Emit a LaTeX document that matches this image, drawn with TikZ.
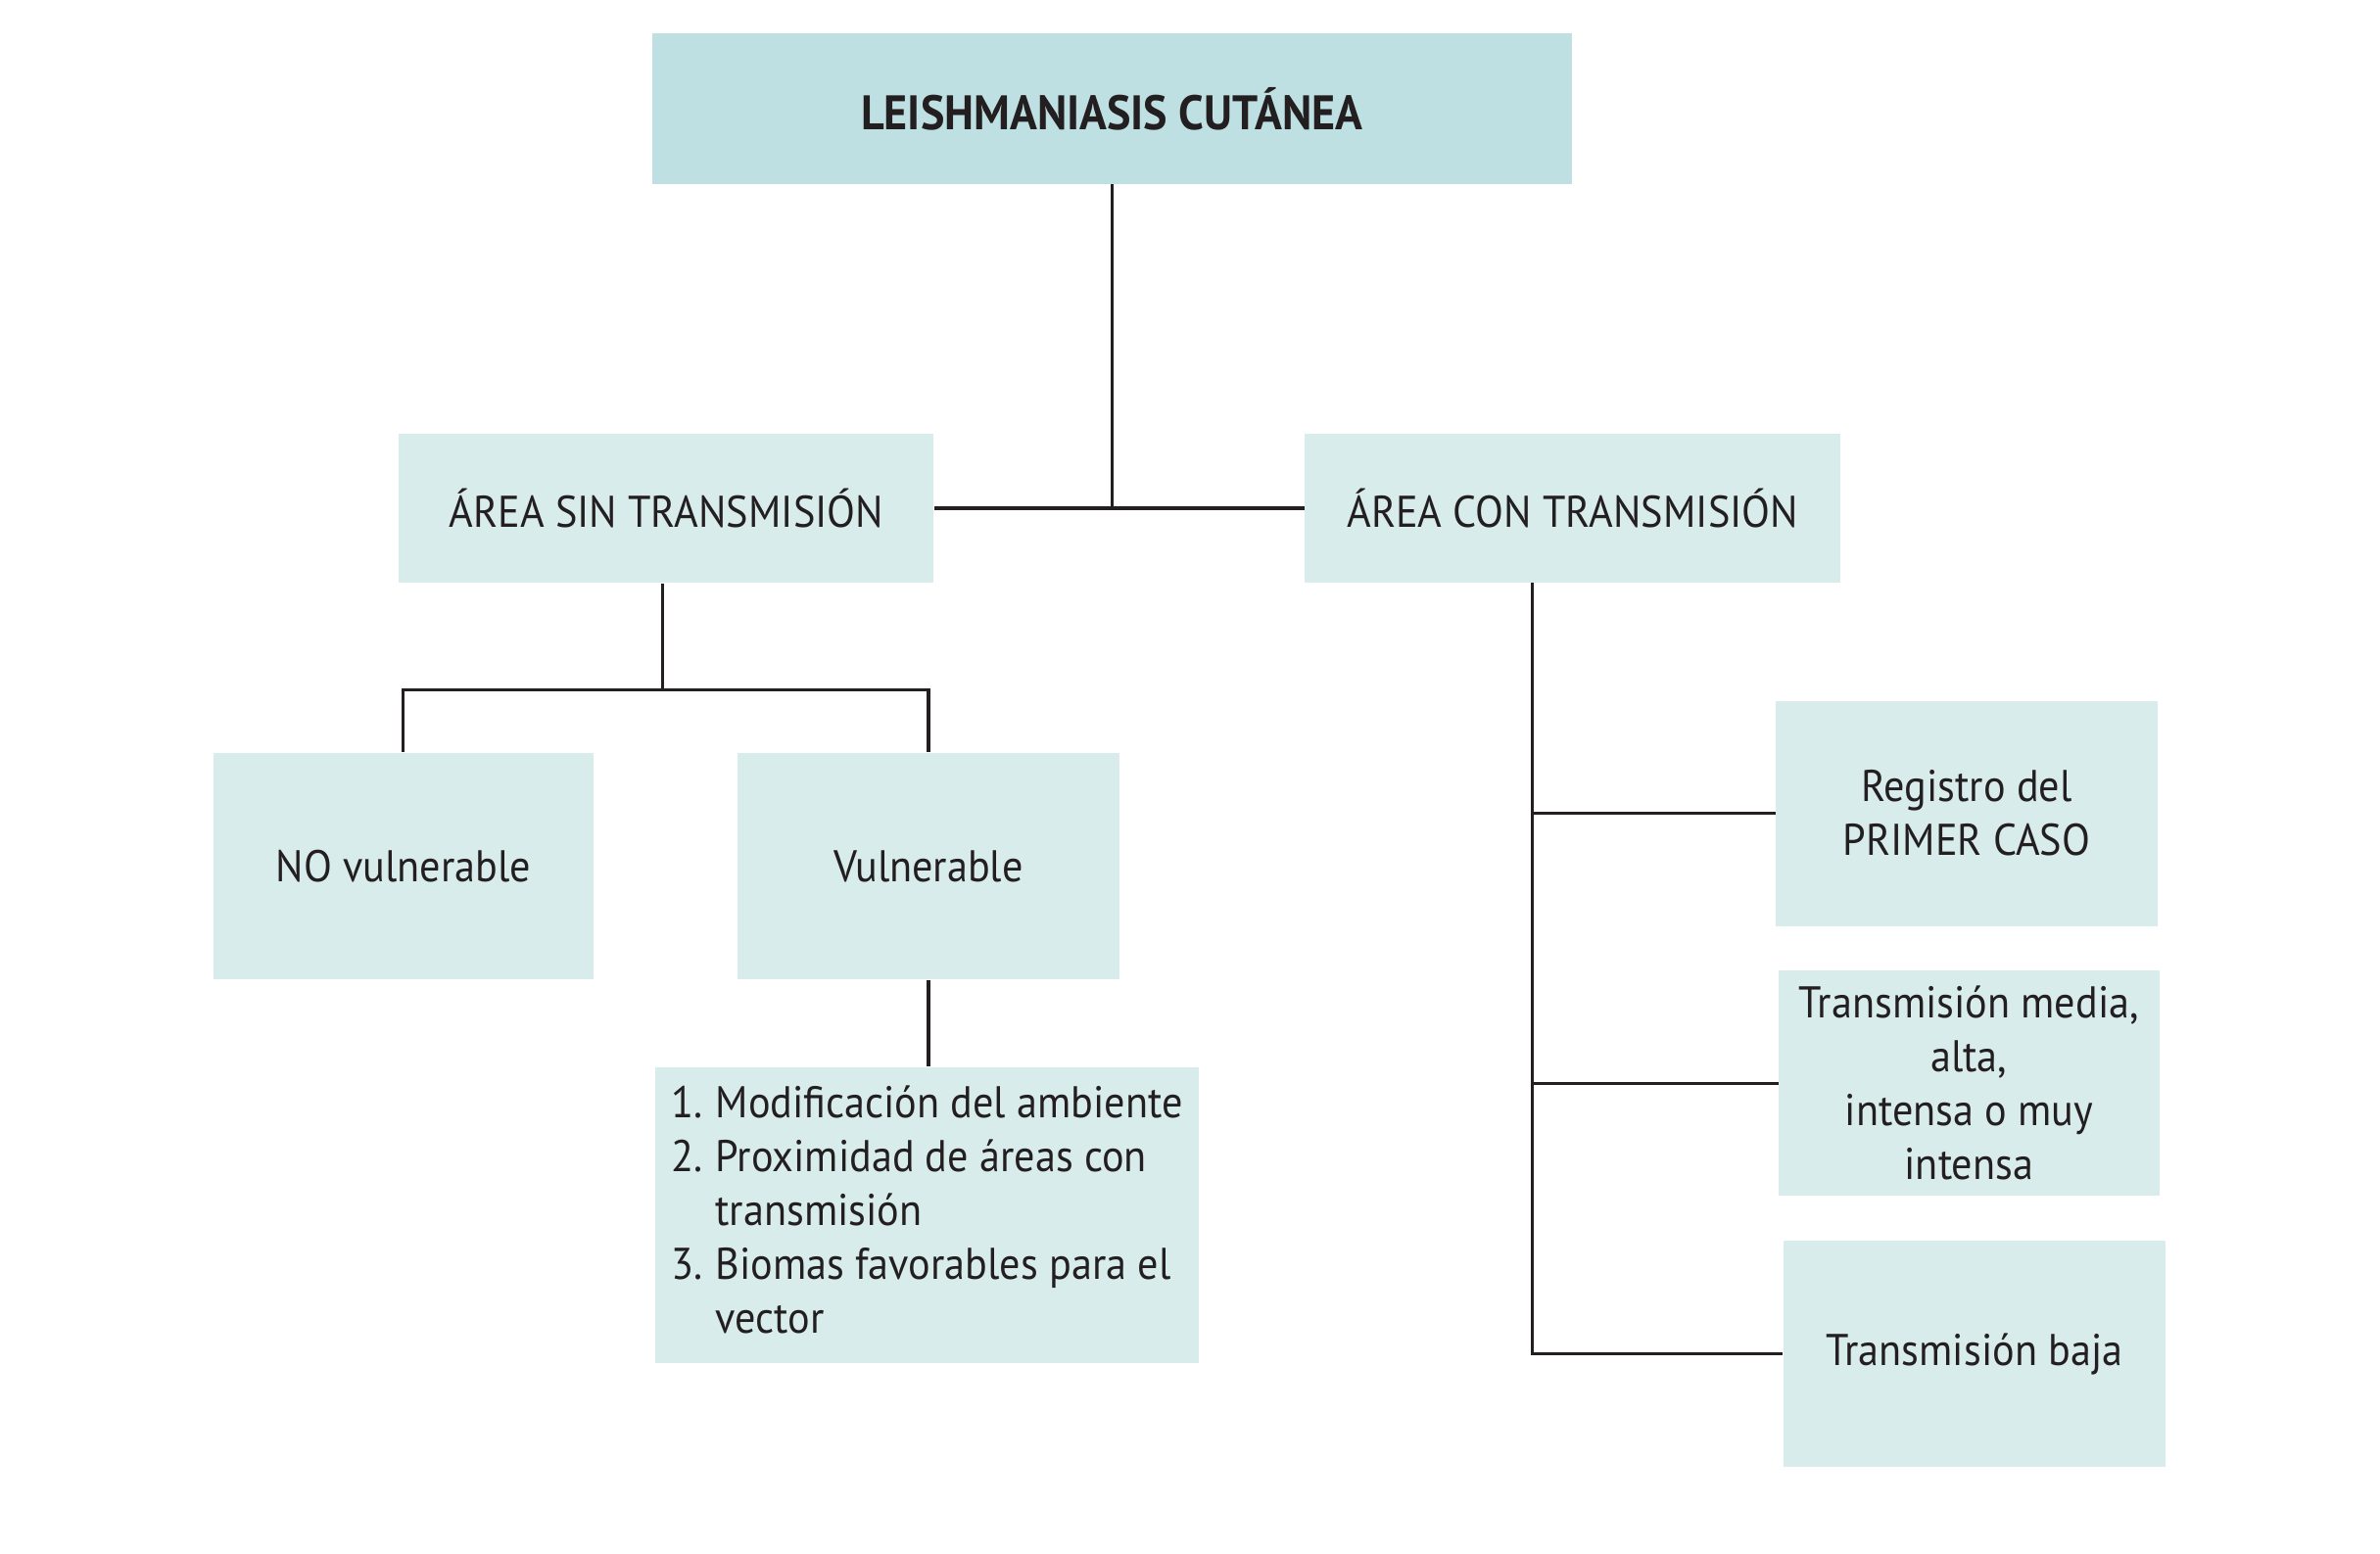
\documentclass[tikz,border=0pt]{standalone}
\usepackage{fontspec}
\setmainfont{PT Sans}[FakeStretch=0.93]
\usepackage{tikz}
\definecolor{fondoosc}{HTML}{BEE0E2}
\definecolor{fondo}{HTML}{D9ECEC}
\definecolor{linea}{HTML}{231F20}

\begin{document}
\begin{tikzpicture}[x=0.02cm,y=-0.02cm,
		caja/.style={fill=fondo, inner sep=0pt, align=center, text=linea,
			font=\fontsize{16.5}{20}\selectfont},
		titulo/.style={caja, fill=fondoosc, font=\bfseries\fontsize{18}{22}\selectfont},
		rama/.style={draw=linea, line width=1.2pt}]
	\useasboundingbox (0,0) rectangle (1552,1013);
	\node[titulo, minimum width=12cm, minimum height=1.96cm] (lc) at (725,71) {LEISHMANIASIS CUTÁNEA};
	\node[caja, minimum width=6.98cm, minimum height=1.94cm] (sin) at (434.5,331.5) {ÁREA SIN TRANSMISIÓN};
	\node[caja, minimum width=6.98cm, minimum height=1.94cm] (con) at (1025.5,331.5) {ÁREA CON TRANSMISIÓN};
	\node[caja, minimum width=4.96cm, minimum height=2.96cm] (novul) at (263,565) {NO vulnerable};
	\node[caja, minimum width=4.98cm, minimum height=2.96cm] (vul) at (605.5,565) {Vulnerable};
	\node[caja, minimum width=7.1cm, minimum height=3.86cm] (lista) at (604.5,792.5) {%
		\begin{tabular}{@{}p{0.58cm}@{}l@{}}
			1.&Modificación del ambiente\\
			2.&Proximidad de áreas con\\
			&transmisión\\
			3.&Biomas favorables para el\\
			&vector
		\end{tabular}};
	\node[caja, minimum width=4.98cm, minimum height=2.94cm] (primer) at (1282.5,530.5) {Registro del\\PRIMER CASO};
	\node[caja, minimum width=4.96cm, minimum height=2.94cm] (media) at (1284,706.5) {Transmisión media,\\alta,\\intensa o muy\\intensa};
	\node[caja, minimum width=4.98cm, minimum height=2.96cm] (baja) at (1287.5,883) {Transmisión baja};
	\coordinate (bsin) at (432,450);
	\coordinate (tronco) at (999,380);
	\draw[rama] (lc.south) -- (lc.south |- sin.east);
	\draw[rama] (sin.east) -- (con.west);
	\draw[rama] (sin.south -| bsin) -- (bsin);
	\draw[rama] (novul.north) |- (vul.north |- bsin) -- (vul.north);
	\draw[rama] (vul.south) -- (vul.south |- lista.north);
	\draw[rama] (tronco) |- (baja.west);
	\draw[rama] (primer.west) -- (primer.west -| tronco);
	\draw[rama] (media.west) -- (media.west -| tronco);
\end{tikzpicture}
\end{document}
